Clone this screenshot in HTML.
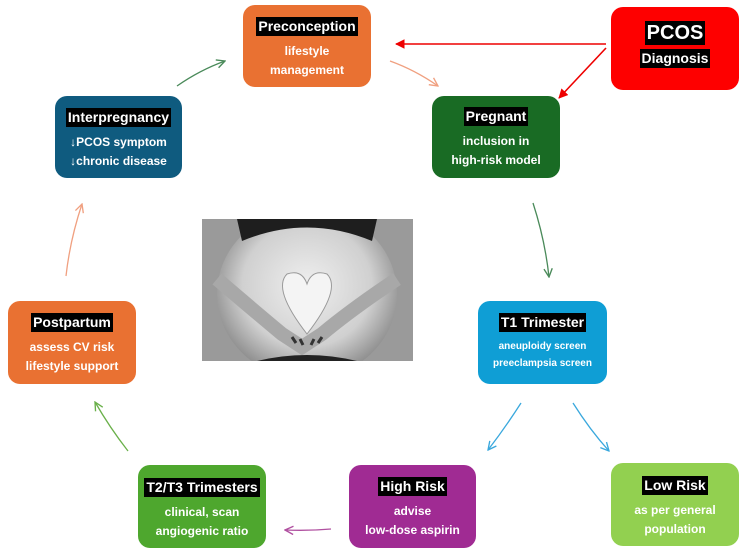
<!DOCTYPE html>
<html><head><meta charset="utf-8"><style>
body{margin:0;width:747px;height:554px;background:#fff;position:relative;overflow:hidden;font-family:"Liberation Sans",sans-serif;}
.b{position:absolute;border-radius:12px;color:#fff;text-align:center;font-weight:bold;font-size:12px;line-height:19px;box-sizing:border-box;}
.t{display:inline-block;background:#000;color:#fff;padding:0 2px;font-size:14px;line-height:19px;margin-bottom:6px;}
</style></head><body>
<div class="b" style="left:243px;top:5px;width:128px;height:82px;background:#e97132;padding-top:12px"><span class="t">Preconception</span><br>lifestyle<br>management</div>
<div class="b" style="left:611px;top:7px;width:128px;height:83px;background:#fe0000;padding-top:14px"><span class="t" style="font-size:20px;line-height:24px;margin-bottom:4px">PCOS</span><br><span class="t" style="font-size:14px">Diagnosis</span></div>
<div class="b" style="left:432px;top:96px;width:128px;height:82px;background:#196b24;padding-top:11px"><span class="t">Pregnant</span><br>inclusion in<br>high-risk model</div>
<div class="b" style="left:55px;top:96px;width:127px;height:82px;background:#0f5b7f;padding-top:12px"><span class="t">Interpregnancy</span><br>↓PCOS symptom<br>↓chronic disease</div>
<div class="b" style="left:8px;top:301px;width:128px;height:83px;background:#e97132;padding-top:12px"><span class="t">Postpartum</span><br>assess CV risk<br>lifestyle support</div>
<div class="b" style="left:478px;top:301px;width:129px;height:83px;background:#0f9ed5;padding-top:12px;font-size:10px;line-height:17px"><span class="t">T1 Trimester</span><br>aneuploidy screen<br>preeclampsia screen</div>
<div class="b" style="left:138px;top:465px;width:128px;height:83px;background:#4ea72e;padding-top:13px"><span class="t">T2/T3 Trimesters</span><br>clinical, scan<br>angiogenic ratio</div>
<div class="b" style="left:349px;top:465px;width:127px;height:83px;background:#a02b93;padding-top:12px"><span class="t">High Risk</span><br>advise<br>low-dose aspirin</div>
<div class="b" style="left:611px;top:463px;width:128px;height:83px;background:#92d050;padding-top:13px"><span class="t">Low Risk</span><br>as per general<br>population</div>
<svg style="position:absolute;left:202px;top:219px" width="211" height="142">
<defs><radialGradient id="g" cx=".5" cy=".45" r=".6"><stop offset="0" stop-color="#efefef"/><stop offset=".6" stop-color="#d0d0d0"/><stop offset="1" stop-color="#7a7a7a"/></radialGradient></defs>
<rect width="211" height="142" fill="#9a9a9a"/>
<ellipse cx="105" cy="75" rx="90" ry="85" fill="url(#g)"/>
<path d="M35 0 L175 0 L170 22 Q105 -5 40 22 Z" fill="#1e1e1e"/>
<path d="M15 60 Q50 90 80 115 L100 128 L120 115 Q150 90 195 60" stroke="#a8a8a8" stroke-width="14" fill="none"/>
<path d="M105 115 Q70 70 85 55 Q100 50 105 65 Q110 50 125 55 Q140 70 105 115Z" fill="#f4f4f4" stroke="#999"/>
<path d="M90 118 l4 6 M98 120 l3 6 M112 120 l-3 6 M120 118 l-4 6" stroke="#333" stroke-width="3"/>
<path d="M55 142 Q105 130 155 142Z" fill="#222"/>
</svg>
<svg style="position:absolute;left:0;top:0" width="747" height="554" fill="none" stroke-width="1.3">
<defs>
<marker id="m" viewBox="0 0 10 10" refX="9" refY="5" markerWidth="8" markerHeight="8" orient="auto-start-reverse"><path d="M1 1L9 5L1 9" fill="none" stroke="context-stroke" stroke-width="1.3"/></marker>
<marker id="r" viewBox="0 0 10 10" refX="9" refY="5" markerWidth="6" markerHeight="6" orient="auto"><path d="M0 0L10 5L0 10Z" fill="#e00"/></marker>
</defs>
<path d="M177 86 Q200 70 225 61" stroke="#4a8a5a" marker-end="url(#m)"/>
<path d="M390 61 Q415 70 438 86" stroke="#f0a080" marker-end="url(#m)"/>
<path d="M606 44 L396 44" stroke="#e00" stroke-width="1.6" marker-end="url(#r)"/>
<path d="M606 48 L559 98" stroke="#e00" stroke-width="1.6" marker-end="url(#r)"/>
<path d="M533 203 Q545 240 549 277" stroke="#4a8a5a" marker-end="url(#m)"/>
<path d="M521 403 Q505 428 488 450" stroke="#3aa8dd" marker-end="url(#m)"/>
<path d="M573 403 Q590 430 609 451" stroke="#3aa8dd" marker-end="url(#m)"/>
<path d="M331 529 Q308 531 285 530" stroke="#b050a0" marker-end="url(#m)"/>
<path d="M128 451 Q110 428 95 402" stroke="#6ab04a" marker-end="url(#m)"/>
<path d="M66 276 Q70 240 82 204" stroke="#f0a080" marker-end="url(#m)"/>
</svg>
</body></html>
